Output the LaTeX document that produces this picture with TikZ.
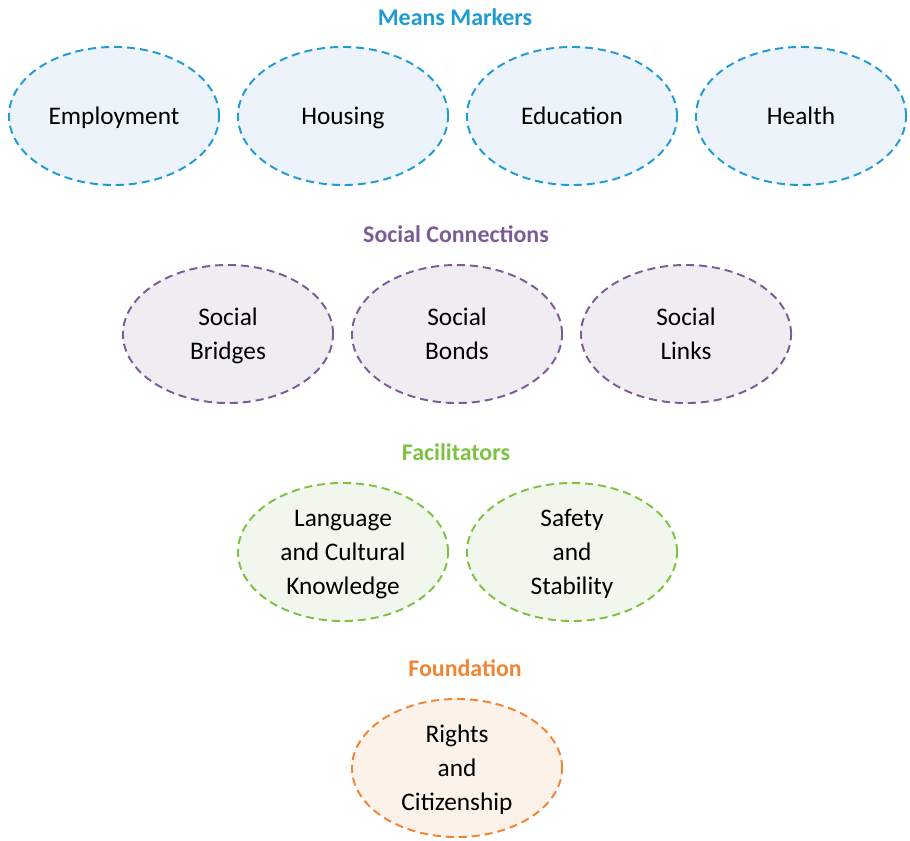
\documentclass[tikz,border=0pt]{standalone}
\usepackage{fontspec}
\setmainfont{Carlito}
\usepackage{tikz}
\usetikzlibrary{shapes.geometric}

\definecolor{meansblue}{RGB}{30,155,210}
\definecolor{meansfill}{RGB}{237,243,250}
\definecolor{socialpurple}{RGB}{123,92,150}
\definecolor{socialfill}{RGB}{239,236,242}
\definecolor{facgreen}{RGB}{125,194,66}
\definecolor{facfill}{RGB}{241,247,236}
\definecolor{foundorange}{RGB}{240,133,53}
\definecolor{foundfill}{RGB}{253,242,234}

\begin{document}
\begin{tikzpicture}[x=0.01cm,y=-0.01cm,
	domain node/.style={ellipse,draw,dash pattern=on 2.3pt off 1.4pt,line width=0.55pt,
		minimum width=2.1cm,minimum height=1.38cm,inner sep=0pt,align=center,
		font=\fontsize{7.2}{9.7}\selectfont,
		execute at begin node={\rule{0pt}{5.1pt}},text depth=-0.5pt},
	head node/.style={font=\fontsize{6.8}{8}\selectfont\bfseries}]
	\useasboundingbox (0,0) rectangle (910,840);
	\tikzstyle{means}=[domain node,draw=meansblue,fill=meansfill]
	\tikzstyle{social}=[domain node,draw=socialpurple,fill=socialfill]
	\tikzstyle{fac}=[domain node,draw=facgreen,fill=facfill]
	\tikzstyle{found}=[domain node,draw=foundorange,fill=foundfill]
	% means markers
	\node (t1) [head node,text=meansblue] at (455,17) {Means Markers};
	\node (employ) [means] at (114,116) {Employment};
	\node (housing) [means] at (343,116) {Housing};
	\node (educ) [means] at (572,116) {Education};
	\node (health) [means] at (801,116) {Health};
	% social connections
	\node (t2) [head node,text=socialpurple] at (456,234) {Social Connections};
	\node (bridges) [social] at (228,334) {Social\\Bridges};
	\node (bonds) [social] at (457,334) {Social\\Bonds};
	\node (links) [social] at (686,334) {Social\\Links};
	% facilitators
	\node (t3) [head node,text=facgreen] at (456,452) {Facilitators};
	\node (lang) [fac] at (343,552) {Language\\and Cultural\\Knowledge};
	\node (safety) [fac] at (572,552) {Safety\\and\\Stability};
	% foundation
	\node (t4) [head node,text=foundorange] at (465,668) {Foundation};
	\node (rights) [found] at (457,768) {Rights\\and\\Citizenship};
\end{tikzpicture}
\end{document}
